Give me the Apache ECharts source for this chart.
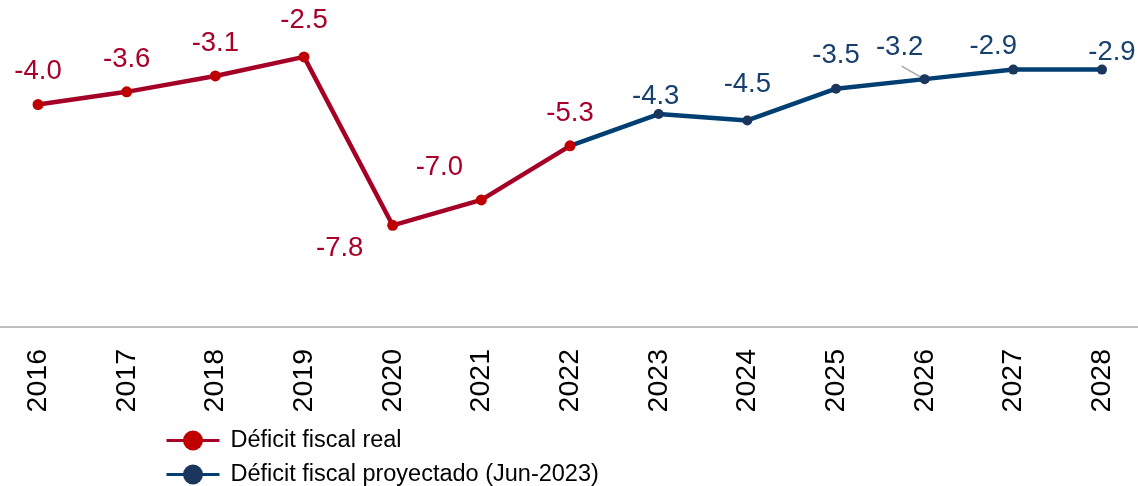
<!DOCTYPE html>
<html>
<head>
<meta charset="utf-8">
<script src="https://cdn.jsdelivr.net/npm/echarts@6/dist/echarts.min.js"></script>
<style>
  html, body { margin: 0; padding: 0; background: #fff; }
  #chart { width: 1138px; height: 486px; }
</style>
</head>
<body>
<div id="chart"></div>
<script>
// Years on the category axis
const years = ['2016', '2017', '2018', '2019', '2020', '2021', '2022', '2023', '2024', '2025', '2026', '2027', '2028'];
// Actual fiscal deficit (% of GDP), 2016-2022
const realDeficit = [-4.0, -3.6, -3.1, -2.5, -7.8, -7.0, -5.3];
// Projected fiscal deficit (Jun-2023), 2023-2028
const projectedDeficit = [-4.3, -4.5, -3.5, -3.2, -2.9, -2.9];
const seriesNames = ['Déficit fiscal real', 'Déficit fiscal proyectado (Jun-2023)'];
// Year whose label sits off to the side with a short leader line
const leaderYear = '2026';

// Label nudges [dx, dy] relative to each point, in year order
const labelNudge = [
  [0, -33], [0, -32], [0, -33], [0, -36], [-53, 23], [-42, -32], [0, -32],
  [-3, -18], [0, -36], [0, -33], [-25, -32], [-20, -23], [10, -17]
];

const FONT = 'Liberation Sans, Arial, sans-serif';
const RED_LINE = '#A50026', RED_DOT = '#C00000', RED_TEXT = '#A8002A';
const BLUE_LINE = '#003F72', BLUE_DOT = '#1B365D', BLUE_TEXT = '#17406D';

const nReal = realDeficit.length;
const allValues = realDeficit.concat(projectedDeficit);

// Real series: values for 2016-2022, empty afterwards
const realData = years.map((y, i) => {
  if (i >= nReal) return null;
  return { value: realDeficit[i], label: { offset: labelNudge[i] } };
});

// Projected series starts from the last real value so the line connects
const projData = years.map((y, i) => {
  if (i < nReal - 1) return null;
  if (i === nReal - 1) {
    return { value: realDeficit[i], symbol: 'none', label: { show: false } };
  }
  return { value: projectedDeficit[i - nReal], label: { offset: labelNudge[i] } };
});

const leaderIdx = years.indexOf(leaderYear);
const leaderData = [[leaderIdx, allValues[leaderIdx]]];

// One legend row per series, stacked under the axis
const legendRow = (name, top) => ({
  orient: 'vertical',
  left: 165,
  top: top,
  padding: 0,
  itemWidth: 53,
  itemHeight: 25,
  lineStyle: { width: 3 },
  textStyle: { fontSize: 23.5, color: '#000', fontFamily: FONT, padding: [0, 0, 0, 6] },
  data: [name]
});

const chart = echarts.init(document.getElementById('chart'));
chart.setOption({
  animation: false,
  backgroundColor: '#ffffff',
  textStyle: { fontFamily: FONT },
  grid: { left: -6.3, right: -8.3, top: 41, bottom: 159, outerBoundsMode: 'none', containLabel: false },
  legend: [legendRow(seriesNames[0], 428.5), legendRow(seriesNames[1], 462.5)],
  xAxis: {
    type: 'category',
    data: years,
    boundaryGap: true,
    axisLine: { show: true, lineStyle: { color: '#BFBFBF', width: 2 } },
    axisTick: { show: false },
    axisLabel: { rotate: 90, margin: 22, fontSize: 28.5, color: '#000', fontFamily: FONT },
    splitLine: { show: false }
  },
  yAxis: {
    type: 'value',
    min: -11,
    max: -2,
    show: false,
    splitLine: { show: false }
  },
  series: [
    {
      // short grey leader from the 2026 label to its point
      type: 'custom',
      z: 1,
      silent: true,
      data: leaderData,
      renderItem: (params, api) => {
        const p = api.coord([api.value(0), api.value(1)]);
        return {
          type: 'line',
          shape: { x1: p[0] - 2, y1: p[1] - 1, x2: p[0] - 23, y2: p[1] - 13 },
          style: { stroke: '#A6A6A6', lineWidth: 1.5 }
        };
      }
    },
    {
      name: seriesNames[1],
      type: 'line',
      data: projData,
      z: 2,
      symbol: 'circle',
      symbolSize: 10,
      lineStyle: { color: BLUE_LINE, width: 4.5 },
      itemStyle: { color: BLUE_DOT },
      label: {
        show: true,
        position: 'inside',
        fontSize: 27.5,
        color: BLUE_TEXT,
        fontFamily: FONT,
        formatter: p => p.value.toFixed(1)
      }
    },
    {
      name: seriesNames[0],
      type: 'line',
      data: realData,
      z: 3,
      symbol: 'circle',
      symbolSize: 11,
      lineStyle: { color: RED_LINE, width: 4.5 },
      itemStyle: { color: RED_DOT },
      label: {
        show: true,
        position: 'inside',
        fontSize: 27.5,
        color: RED_TEXT,
        fontFamily: FONT,
        formatter: p => p.value.toFixed(1)
      }
    }
  ]
});
</script>
</body>
</html>
